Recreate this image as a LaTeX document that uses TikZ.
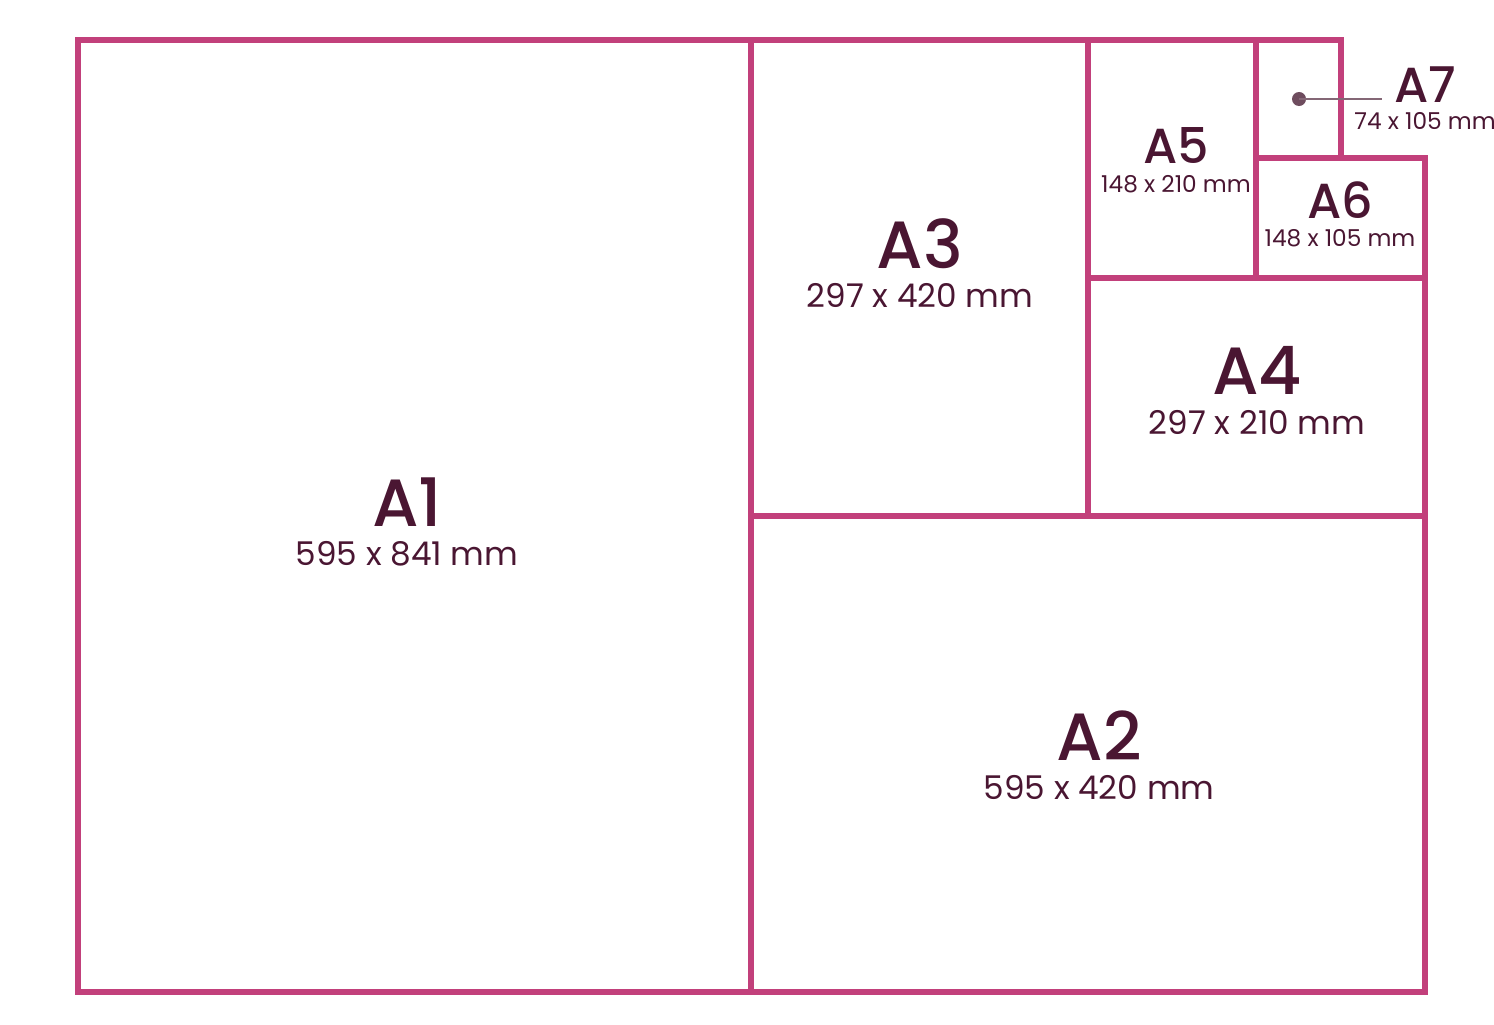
\documentclass[tikz,border=0pt]{standalone}
\usepackage{fontspec}
\setmainfont{Poppins}
\newfontfamily\medfont{Poppins Medium}
\usetikzlibrary{positioning}
\definecolor{rim}{HTML}{C2407B}
\definecolor{ink}{HTML}{4A1632}
\definecolor{pin}{HTML}{6E4C5E}
\tikzset{
  sheet/.style={draw=rim,line width=1.45pt},
  bigname/.style={anchor=base,text=ink,inner sep=0pt,font=\fontsize{19}{20}\selectfont\medfont},
  bigsize/.style={anchor=base,text=ink,inner sep=0pt,font=\fontsize{9.3}{10}\selectfont},
  smallname/.style={anchor=base,text=ink,inner sep=0pt,font=\fontsize{14}{15}\selectfont\medfont},
  smallsize/.style={anchor=base,text=ink,inner sep=0pt,font=\fontsize{6.6}{7}\selectfont},
}

\begin{document}
\begin{tikzpicture}[x=0.01cm,y=-0.01cm] %---- paper sizes
\useasboundingbox (0,0) rectangle (1494,1024);
\fill[white] (0,0) rectangle (1494,1024);
% ---- sheets
\draw[sheet] (78,40) rectangle (751,992); % A1
\draw[sheet] (751,516) rectangle (1425,992); % A2
\draw[sheet] (751,40) rectangle (1088,516); % A3
\draw[sheet] (1088,278) rectangle (1425,516); % A4
\draw[sheet] (1088,40) rectangle (1256,278); % A5
\draw[sheet] (1256,158) rectangle (1425,278); % A6
\draw[sheet] (1256,40) rectangle (1341,158); % A7
% ---- labels
\node[bigname] (a1) at (407,526) {A1};
\node[bigsize] (a1s) at (407,565) {595 x 841 mm};
\node[bigname] (a2) at (1099,760) {A2};
\node[bigsize] (a2s) at (1099,799) {595 x 420 mm};
\node[bigname] (a3) at (920,268) {A3};
\node[bigsize] (a3s) at (920,307) {297 x 420 mm};
\node[bigname] (a4) at (1257,394) {A4};
\node[bigsize] (a4s) at (1257,434) {297 x 210 mm};
\node[smallname] (a5) at (1176,163) {A5};
\node[smallsize] (a5s) at (1176,192) {148 x 210 mm};
\node[smallname] (a6) at (1340,218) {A6};
\node[smallsize] (a6s) at (1340,246) {148 x 105 mm};
\node[smallname] (a7) at (1425,102) {A7};
\node[smallsize] (a7s) at (1425,129) {74 x 105 mm};
% ---- pointer to A7
\node[circle,fill=pin,inner sep=0pt,minimum size=0.14cm] (dot) at (1299,99) {};
\coordinate (a7end) at (1382,99);
\draw[pin!85,line width=0.45pt] (dot.center) -- (a7end);
\end{tikzpicture}
\end{document}
